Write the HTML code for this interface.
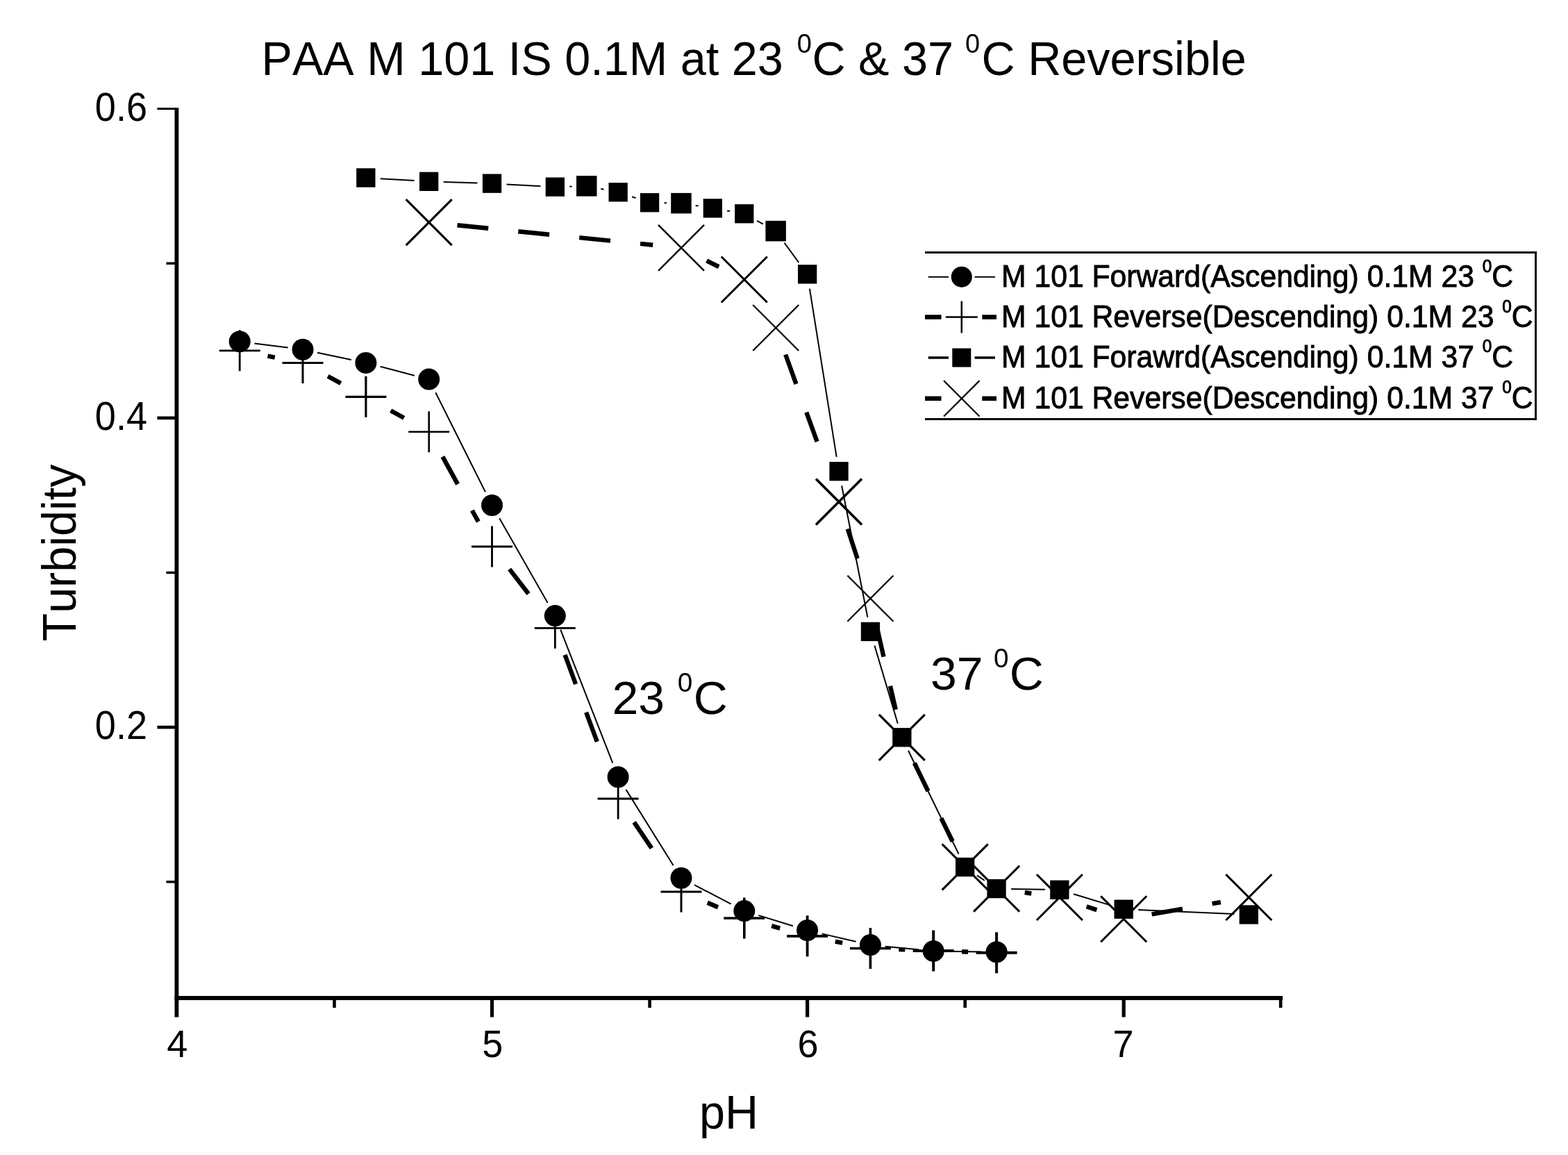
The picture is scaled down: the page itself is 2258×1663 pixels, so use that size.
<!DOCTYPE html>
<html><head><meta charset="utf-8"><title>PAA M 101 Turbidity</title>
<style>html,body{margin:0;padding:0;background:#fff}svg{display:block}text{font-family:"Liberation Sans",sans-serif;font-kerning:none;white-space:pre}</style></head>
<body>
<svg width="2258" height="1663" viewBox="0 0 2258 1663" style="display:block">
<rect width="2258" height="1663" fill="#fff"/>
<path d="M254.4 155.2V1464.5" stroke="#000" stroke-width="5.8" fill="none"/>
<path d="M251.5 1437.0H1847.1000000000001" stroke="#000" stroke-width="5.8" fill="none"/>
<path d="M226.4 156.6H254.4" stroke="#000" stroke-width="3.0"/>
<text transform="translate(212 173.6) scale(0.9569 1)" font-size="56.53" text-anchor="end" fill="#000">0.6</text>
<path d="M226.4 601.8H254.4" stroke="#000" stroke-width="4.6"/>
<text transform="translate(212 618.8) scale(0.9569 1)" font-size="56.53" text-anchor="end" fill="#000">0.4</text>
<path d="M226.4 1047.1H254.4" stroke="#000" stroke-width="4.6"/>
<text transform="translate(212 1064.1) scale(0.9569 1)" font-size="56.53" text-anchor="end" fill="#000">0.2</text>
<path d="M239.4 379.2H254.4" stroke="#000" stroke-width="3.5"/>
<path d="M239.4 824.5H254.4" stroke="#000" stroke-width="3.5"/>
<path d="M239.4 1269.7H254.4" stroke="#000" stroke-width="3.5"/>
<text transform="translate(255.2 1521.6) scale(0.9662 1)" font-size="55.89" text-anchor="middle" fill="#000">4</text>
<path d="M708.5 1437.0V1464.5" stroke="#000" stroke-width="5.2"/>
<text transform="translate(709.3 1521.6) scale(0.9662 1)" font-size="55.89" text-anchor="middle" fill="#000">5</text>
<path d="M1162.6 1437.0V1464.5" stroke="#000" stroke-width="5.2"/>
<text transform="translate(1163.4 1521.6) scale(0.9662 1)" font-size="55.89" text-anchor="middle" fill="#000">6</text>
<path d="M1618.2 1437.0V1464.5" stroke="#000" stroke-width="5.2"/>
<text transform="translate(1617.5 1521.6) scale(0.9662 1)" font-size="55.89" text-anchor="middle" fill="#000">7</text>
<path d="M481.5 1437.0V1451.0" stroke="#000" stroke-width="4.6"/>
<path d="M935.6 1437.0V1451.0" stroke="#000" stroke-width="4.6"/>
<path d="M1389.7 1437.0V1451.0" stroke="#000" stroke-width="4.6"/>
<path d="M1844.2 1437.0V1451.0" stroke="#000" stroke-width="4.6"/>
<text transform="translate(1049.5 1625) scale(0.9709 1)" font-size="68.50" text-anchor="middle" fill="#000">pH</text>
<text transform="translate(109 796) rotate(-90) scale(0.9709 1)" font-size="68.50" text-anchor="middle" fill="#000">Turbidity</text>
<text transform="translate(376.5 108.3) scale(0.9709 1)" font-size="68.60" text-anchor="start" fill="#000">PAA M 101 IS 0.1M at 23 <tspan font-size="39.10" dx="1.5" dy="-32.0">0</tspan><tspan dx="0.5" dy="32.0">C &amp; 37 </tspan><tspan font-size="39.10" dx="-1.5" dy="-32.0">0</tspan><tspan dx="2.5" dy="32.0">C Reversible</tspan></text>
<text transform="translate(881.4 1028.3) scale(1.0152 1)" font-size="66.88" text-anchor="start" fill="#000">23 <tspan font-size="38.12" dx="0" dy="-32.8">0</tspan><tspan dx="1.5" dy="32.8">C</tspan></text>
<text transform="translate(1340 993.3) scale(1.0152 1)" font-size="66.88" text-anchor="start" fill="#000">37 <tspan font-size="38.12" dx="-3.2" dy="-32.8">0</tspan><tspan dx="1.0" dy="32.8">C</tspan></text>
<line x1="366.5" y1="494.4" x2="414.7" y2="500.6" stroke="#000" stroke-width="2"/>
<line x1="457.1" y1="507.7" x2="505.8" y2="518.0" stroke="#000" stroke-width="2"/>
<line x1="547.7" y1="527.8" x2="596.9" y2="540.7" stroke="#000" stroke-width="2"/>
<line x1="627.3" y1="565.3" x2="698.9" y2="708.3" stroke="#000" stroke-width="2"/>
<line x1="719.2" y1="746.2" x2="788.7" y2="867.9" stroke="#000" stroke-width="2"/>
<line x1="807.2" y1="906.6" x2="882.3" y2="1098.7" stroke="#000" stroke-width="2"/>
<line x1="901.5" y1="1136.9" x2="969.6" y2="1246.0" stroke="#000" stroke-width="2"/>
<line x1="1000.0" y1="1274.1" x2="1052.7" y2="1301.7" stroke="#000" stroke-width="2"/>
<line x1="1092.3" y1="1317.9" x2="1142.0" y2="1333.2" stroke="#000" stroke-width="2"/>
<line x1="1183.5" y1="1344.4" x2="1232.5" y2="1355.7" stroke="#000" stroke-width="2"/>
<line x1="1274.8" y1="1362.7" x2="1322.8" y2="1367.3" stroke="#000" stroke-width="2"/>
<line x1="1365.7" y1="1369.7" x2="1413.6" y2="1370.4" stroke="#000" stroke-width="2"/>
<line x1="547.8" y1="257.2" x2="596.7" y2="260.1" stroke="#000" stroke-width="2"/>
<line x1="638.7" y1="262.0" x2="687.5" y2="263.5" stroke="#000" stroke-width="2"/>
<line x1="729.5" y1="265.4" x2="778.4" y2="268.0" stroke="#000" stroke-width="2"/>
<line x1="820.3" y1="268.6" x2="823.7" y2="268.4" stroke="#000" stroke-width="2"/>
<line x1="865.3" y1="271.8" x2="869.5" y2="272.7" stroke="#000" stroke-width="2"/>
<line x1="910.1" y1="283.3" x2="915.6" y2="285.1" stroke="#000" stroke-width="2"/>
<line x1="956.5" y1="292.2" x2="960.0" y2="292.2" stroke="#000" stroke-width="2"/>
<line x1="1001.7" y1="296.0" x2="1005.6" y2="296.6" stroke="#000" stroke-width="2"/>
<line x1="1047.1" y1="303.5" x2="1051.1" y2="304.1" stroke="#000" stroke-width="2"/>
<line x1="1090.2" y1="317.8" x2="1098.8" y2="322.6" stroke="#000" stroke-width="2"/>
<line x1="1129.6" y1="349.7" x2="1150.2" y2="377.9" stroke="#000" stroke-width="2"/>
<line x1="1165.9" y1="415.6" x2="1204.7" y2="657.9" stroke="#000" stroke-width="2"/>
<line x1="1212.1" y1="699.2" x2="1249.4" y2="888.8" stroke="#000" stroke-width="2"/>
<line x1="1259.4" y1="929.5" x2="1292.8" y2="1041.7" stroke="#000" stroke-width="2"/>
<line x1="1308.0" y1="1080.7" x2="1380.5" y2="1229.5" stroke="#000" stroke-width="2"/>
<line x1="1407.0" y1="1260.3" x2="1417.8" y2="1267.7" stroke="#000" stroke-width="2"/>
<line x1="1456.1" y1="1280.0" x2="1504.9" y2="1280.8" stroke="#000" stroke-width="2"/>
<line x1="1546.0" y1="1287.3" x2="1598.1" y2="1303.1" stroke="#000" stroke-width="2"/>
<line x1="1639.2" y1="1310.1" x2="1777.4" y2="1316.1" stroke="#000" stroke-width="2"/>
<path d="M385.5 512.6L395.8 514.6" stroke="#000" stroke-width="6.4" fill="none"/>
<path d="M472.1 541.8L490.8 551.9" stroke="#000" stroke-width="6.4" fill="none"/>
<path d="M562.7 591.2L581.8 601.8" stroke="#000" stroke-width="6.4" fill="none"/>
<path d="M637.4 657.6L659.1 697.1M679.9 735.0L688.8 751.1" stroke="#000" stroke-width="6.4" fill="none"/>
<path d="M733.6 819.4L761.1 855.0" stroke="#000" stroke-width="6.4" fill="none"/>
<path d="M813.5 942.8L829.1 985.0M844.1 1025.6L859.8 1067.8" stroke="#000" stroke-width="6.4" fill="none"/>
<path d="M913.1 1183.9L938.4 1221.2" stroke="#000" stroke-width="6.4" fill="none"/>
<path d="M1018.8 1299.8L1034.0 1306.2" stroke="#000" stroke-width="6.4" fill="none"/>
<path d="M1111.2 1333.2L1123.2 1336.6" stroke="#000" stroke-width="6.4" fill="none"/>
<path d="M1202.8 1355.6L1213.2 1357.7" stroke="#000" stroke-width="6.4" fill="none"/>
<path d="M1294.4 1367.1L1303.3 1367.4" stroke="#000" stroke-width="6.4" fill="none"/>
<path d="M1385.2 1370.2L1394.1 1370.5" stroke="#000" stroke-width="6.4" fill="none"/>
<path d="M658.5 324.3L703.2 328.8M746.3 333.2L791.1 337.7M834.2 342.1L879.0 346.6M922.0 350.9L940.2 352.8" stroke="#000" stroke-width="6.4" fill="none"/>
<path d="M1017.6 375.3L1035.1 384.1" stroke="#000" stroke-width="6.4" fill="none"/>
<path d="M1131.2 510.5L1146.5 552.9M1161.3 593.6L1176.6 635.9" stroke="#000" stroke-width="6.4" fill="none"/>
<path d="M1220.7 761.5L1234.7 804.3" stroke="#000" stroke-width="6.4" fill="none"/>
<path d="M1262.5 901.7L1272.5 945.6M1282.0 987.8L1289.8 1021.8" stroke="#000" stroke-width="6.4" fill="none"/>
<path d="M1316.8 1098.7L1336.5 1139.1M1355.4 1178.1L1371.7 1211.5" stroke="#000" stroke-width="6.4" fill="none"/>
<path d="M1475.7 1285.1L1485.3 1286.5" stroke="#000" stroke-width="6.4" fill="none"/>
<path d="M1564.7 1305.2L1579.4 1310.1" stroke="#000" stroke-width="6.4" fill="none"/>
<path d="M1658.6 1316.3L1702.9 1308.6M1745.6 1301.2L1757.9 1299.0" stroke="#000" stroke-width="6.4" fill="none"/>
<path d="M315.7 504.8H374.7M345.2 475.3V534.3" stroke="#000" stroke-width="2.8" fill="none"/>
<path d="M406.5 522.4H465.5M436.0 492.9V551.9" stroke="#000" stroke-width="3.0" fill="none"/>
<path d="M497.4 571.3H556.4M526.9 541.8V600.8" stroke="#000" stroke-width="3.2" fill="none"/>
<path d="M588.2 621.7H647.2M617.7 592.2V651.2" stroke="#000" stroke-width="2.6" fill="none"/>
<path d="M679.0 787.0H738.0M708.5 757.5V816.5" stroke="#000" stroke-width="2.8" fill="none"/>
<path d="M769.8 904.3H828.8M799.3 874.8V933.8" stroke="#000" stroke-width="2.8" fill="none"/>
<path d="M860.6 1150.0H919.6M890.1 1120.5V1179.5" stroke="#000" stroke-width="2.8" fill="none"/>
<path d="M951.5 1284.0H1010.5M981.0 1254.5V1313.5" stroke="#000" stroke-width="3.0" fill="none"/>
<path d="M1042.3 1322.0H1101.3M1071.8 1292.5V1351.5" stroke="#000" stroke-width="3.6" fill="none"/>
<path d="M1133.1 1347.8H1192.1M1162.6 1318.3V1377.3" stroke="#000" stroke-width="3.8" fill="none"/>
<path d="M1223.9 1365.5H1282.9M1253.4 1336.0V1395.0" stroke="#000" stroke-width="3.6" fill="none"/>
<path d="M1314.7 1369.0H1373.7M1344.2 1339.5V1398.5" stroke="#000" stroke-width="4.0" fill="none"/>
<path d="M1405.6 1371.7H1464.6M1435.1 1342.2V1401.2" stroke="#000" stroke-width="4.0" fill="none"/>
<path d="M584.7 287.2L650.7 353.2M584.7 353.2L650.7 287.2" stroke="#000" stroke-width="3.2" fill="none"/>
<path d="M948.0 323.9L1014.0 389.9M948.0 389.9L1014.0 323.9" stroke="#000" stroke-width="2.5" fill="none"/>
<path d="M1038.8 369.5L1104.8 435.5M1038.8 435.5L1104.8 369.5" stroke="#000" stroke-width="3.0" fill="none"/>
<path d="M1084.2 439.0L1150.2 505.0M1084.2 505.0L1150.2 439.0" stroke="#000" stroke-width="2.3" fill="none"/>
<path d="M1175.0 689.5L1241.0 755.5M1175.0 755.5L1241.0 689.5" stroke="#000" stroke-width="3.6" fill="none"/>
<path d="M1220.4 828.7L1286.4 894.7M1220.4 894.7L1286.4 828.7" stroke="#000" stroke-width="2.3" fill="none"/>
<path d="M1265.8 1028.8L1331.8 1094.8M1265.8 1094.8L1331.8 1028.8" stroke="#000" stroke-width="3.2" fill="none"/>
<path d="M1356.7 1215.4L1422.7 1281.4M1356.7 1281.4L1422.7 1215.4" stroke="#000" stroke-width="3.0" fill="none"/>
<path d="M1402.1 1246.6L1468.1 1312.6M1402.1 1312.6L1468.1 1246.6" stroke="#000" stroke-width="3.0" fill="none"/>
<path d="M1492.9 1259.0L1558.9 1325.0M1492.9 1325.0L1558.9 1259.0" stroke="#000" stroke-width="3.0" fill="none"/>
<path d="M1585.2 1290.3L1651.2 1356.3M1585.2 1356.3L1651.2 1290.3" stroke="#000" stroke-width="3.0" fill="none"/>
<path d="M1765.3 1259.0L1831.3 1325.0M1765.3 1325.0L1831.3 1259.0" stroke="#000" stroke-width="3.0" fill="none"/>
<circle cx="345.2" cy="491.7" r="15.5" fill="#000"/>
<circle cx="436.0" cy="503.3" r="15.5" fill="#000"/>
<circle cx="526.9" cy="522.4" r="15.5" fill="#000"/>
<circle cx="617.7" cy="546.1" r="15.5" fill="#000"/>
<circle cx="708.5" cy="727.5" r="15.5" fill="#000"/>
<circle cx="799.3" cy="886.6" r="15.5" fill="#000"/>
<circle cx="890.1" cy="1118.7" r="15.5" fill="#000"/>
<circle cx="981.0" cy="1264.2" r="15.5" fill="#000"/>
<circle cx="1071.8" cy="1311.6" r="15.5" fill="#000"/>
<circle cx="1162.6" cy="1339.5" r="15.5" fill="#000"/>
<circle cx="1253.4" cy="1360.6" r="15.5" fill="#000"/>
<circle cx="1344.2" cy="1369.4" r="15.5" fill="#000"/>
<circle cx="1435.1" cy="1370.7" r="15.5" fill="#000"/>
<rect x="513.2" y="242.3" width="27.3" height="27.3" fill="#000"/>
<rect x="604.0" y="247.7" width="27.3" height="27.3" fill="#000"/>
<rect x="694.9" y="250.5" width="27.3" height="27.3" fill="#000"/>
<rect x="785.7" y="255.5" width="27.3" height="27.3" fill="#000"/>
<rect x="830.0" y="253.1" width="29.5" height="29.5" fill="#000"/>
<rect x="876.5" y="263.1" width="27.3" height="27.3" fill="#000"/>
<rect x="921.9" y="278.1" width="27.3" height="27.3" fill="#000"/>
<rect x="966.2" y="277.9" width="29.5" height="29.5" fill="#000"/>
<rect x="1012.7" y="286.2" width="27.3" height="27.3" fill="#000"/>
<rect x="1058.1" y="294.1" width="27.3" height="27.3" fill="#000"/>
<rect x="1102.4" y="317.9" width="29.5" height="29.5" fill="#000"/>
<rect x="1149.0" y="381.2" width="27.3" height="27.3" fill="#000"/>
<rect x="1194.4" y="665.0" width="27.3" height="27.3" fill="#000"/>
<rect x="1239.8" y="895.8" width="27.3" height="27.3" fill="#000"/>
<rect x="1285.2" y="1048.1" width="27.3" height="27.3" fill="#000"/>
<rect x="1376.0" y="1234.8" width="27.3" height="27.3" fill="#000"/>
<rect x="1421.4" y="1265.9" width="27.3" height="27.3" fill="#000"/>
<rect x="1512.2" y="1267.5" width="27.3" height="27.3" fill="#000"/>
<rect x="1604.5" y="1295.5" width="27.3" height="27.3" fill="#000"/>
<rect x="1784.7" y="1303.3" width="27.3" height="27.3" fill="#000"/>
<path d="M1332 363.5H2211.5V603.5H1332" stroke="#000" stroke-width="3" fill="none"/>
<path d="M1336.7 398.7H1366M1403.6 398.7H1433" stroke="#000" stroke-width="2"/>
<circle cx="1384.8" cy="398.7" r="15" fill="#000"/>
<path d="M1332 456.5H1355.5M1414.3 456.5H1435" stroke="#000" stroke-width="6.5"/>
<path d="M1361.8 456.5H1407.8M1384.8 433.5V479.5" stroke="#000" stroke-width="2.5" fill="none"/>
<path d="M1336.7 515H1366M1403.6 515H1433" stroke="#000" stroke-width="3.5"/>
<rect x="1371.3" y="501.5" width="27" height="27" fill="#000"/>
<path d="M1332 573.8H1355.5M1414.3 573.8H1435" stroke="#000" stroke-width="6.5"/>
<path d="M1359.1 548.1L1410.5 599.5M1359.1 599.5L1410.5 548.1" stroke="#000" stroke-width="2.2" fill="none"/>
<text transform="translate(1442 413.3) scale(0.9709 1)" font-size="43.98" text-anchor="start" fill="#000" stroke="#000" stroke-width="0.9">M 101 Forward(Ascending) 0.1M 23 <tspan font-size="25.07" dx="0" dy="-21.6">0</tspan><tspan dx="0" dy="21.6">C</tspan></text>
<text transform="translate(1442 471.3) scale(0.9709 1)" font-size="43.98" text-anchor="start" fill="#000" stroke="#000" stroke-width="0.9">M 101 Reverse(Descending) 0.1M 23 <tspan font-size="25.07" dx="0" dy="-21.6">0</tspan><tspan dx="0" dy="21.6">C</tspan></text>
<text transform="translate(1442 528.6) scale(0.9709 1)" font-size="43.98" text-anchor="start" fill="#000" stroke="#000" stroke-width="0.9">M 101 Forawrd(Ascending) 0.1M 37 <tspan font-size="25.07" dx="0" dy="-21.6">0</tspan><tspan dx="0" dy="21.6">C</tspan></text>
<text transform="translate(1442 588) scale(0.9709 1)" font-size="43.98" text-anchor="start" fill="#000" stroke="#000" stroke-width="0.9">M 101 Reverse(Descending) 0.1M 37 <tspan font-size="25.07" dx="0" dy="-21.6">0</tspan><tspan dx="0" dy="21.6">C</tspan></text>
</svg>
</body></html>
